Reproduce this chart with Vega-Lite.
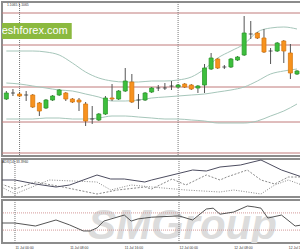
{
  "$schema": "https://vega.github.io/schema/vega-lite/v6.json",
  "padding": 0,
  "background": "#ffffff",
  "spacing": 3,
  "bounds": "flush",
  "config": {"view": {"stroke": "#8c8c8c", "strokeWidth": 2}},
  "datasets": {
    "candles": [
      {"h": -2, "o": 1.1055, "hi": 1.1063, "lo": 1.1054, "c": 1.1061},
      {"h": -1, "o": 1.1061, "hi": 1.1065, "lo": 1.1058, "c": 1.1061},
      {"h": 0, "o": 1.1060, "hi": 1.1062, "lo": 1.1057, "c": 1.1058},
      {"h": 1, "o": 1.1059, "hi": 1.1063, "lo": 1.1053, "c": 1.1059},
      {"h": 2, "o": 1.1059, "hi": 1.1060, "lo": 1.1046, "c": 1.1047},
      {"h": 3, "o": 1.1051, "hi": 1.1052, "lo": 1.1038, "c": 1.1043},
      {"h": 4, "o": 1.1046, "hi": 1.1055, "lo": 1.1045, "c": 1.1054},
      {"h": 5, "o": 1.1054, "hi": 1.1059, "lo": 1.1053, "c": 1.1058},
      {"h": 6, "o": 1.1059, "hi": 1.1065, "lo": 1.1058, "c": 1.1064},
      {"h": 7, "o": 1.1061, "hi": 1.1062, "lo": 1.1053, "c": 1.1055},
      {"h": 8, "o": 1.1055, "hi": 1.1056, "lo": 1.1051, "c": 1.1052},
      {"h": 9, "o": 1.1054, "hi": 1.1056, "lo": 1.1043, "c": 1.1052},
      {"h": 10, "o": 1.1050, "hi": 1.1052, "lo": 1.1028, "c": 1.1033},
      {"h": 11, "o": 1.1035, "hi": 1.1048, "lo": 1.1030, "c": 1.1035},
      {"h": 12, "o": 1.1034, "hi": 1.1041, "lo": 1.1033, "c": 1.1040},
      {"h": 13, "o": 1.1040, "hi": 1.1058, "lo": 1.1039, "c": 1.1056},
      {"h": 14, "o": 1.1056, "hi": 1.1070, "lo": 1.1053, "c": 1.1055},
      {"h": 15, "o": 1.1055, "hi": 1.1064, "lo": 1.1054, "c": 1.1063},
      {"h": 16, "o": 1.1063, "hi": 1.1086, "lo": 1.1062, "c": 1.1073},
      {"h": 17, "o": 1.1072, "hi": 1.1080, "lo": 1.1051, "c": 1.1052},
      {"h": 18, "o": 1.1054, "hi": 1.1060, "lo": 1.1045, "c": 1.1054},
      {"h": 19, "o": 1.1054, "hi": 1.1062, "lo": 1.1053, "c": 1.1061},
      {"h": 20, "o": 1.1062, "hi": 1.1067, "lo": 1.1061, "c": 1.1066},
      {"h": 21, "o": 1.1066, "hi": 1.1069, "lo": 1.1063, "c": 1.1066},
      {"h": 22, "o": 1.1066, "hi": 1.1071, "lo": 1.1064, "c": 1.1066},
      {"h": 23, "o": 1.1068, "hi": 1.1073, "lo": 1.1064, "c": 1.1068},
      {"h": 24, "o": 1.1067, "hi": 1.1070, "lo": 1.1066, "c": 1.1069},
      {"h": 25, "o": 1.1070, "hi": 1.1071, "lo": 1.1066, "c": 1.1067},
      {"h": 26, "o": 1.1069, "hi": 1.1070, "lo": 1.1064, "c": 1.1065},
      {"h": 27, "o": 1.1066, "hi": 1.1069, "lo": 1.1061, "c": 1.1068},
      {"h": 28, "o": 1.1069, "hi": 1.1090, "lo": 1.1061, "c": 1.1086},
      {"h": 29, "o": 1.1085, "hi": 1.1101, "lo": 1.1084, "c": 1.1096},
      {"h": 30, "o": 1.1095, "hi": 1.1096, "lo": 1.1085, "c": 1.1086},
      {"h": 31, "o": 1.1087, "hi": 1.1089, "lo": 1.1085, "c": 1.1087},
      {"h": 32, "o": 1.1087, "hi": 1.1096, "lo": 1.1086, "c": 1.1095},
      {"h": 33, "o": 1.1094, "hi": 1.1098, "lo": 1.1093, "c": 1.1097},
      {"h": 34, "o": 1.1099, "hi": 1.1138, "lo": 1.1098, "c": 1.1121},
      {"h": 35, "o": 1.1120, "hi": 1.1133, "lo": 1.1115, "c": 1.1120},
      {"h": 36, "o": 1.1121, "hi": 1.1122, "lo": 1.1115, "c": 1.1116},
      {"h": 37, "o": 1.1116, "hi": 1.1125, "lo": 1.1101, "c": 1.1102},
      {"h": 38, "o": 1.1103, "hi": 1.1106, "lo": 1.1090, "c": 1.1103},
      {"h": 39, "o": 1.1103, "hi": 1.1112, "lo": 1.1102, "c": 1.1111},
      {"h": 40, "o": 1.1113, "hi": 1.1114, "lo": 1.1091, "c": 1.1103},
      {"h": 41, "o": 1.1101, "hi": 1.1110, "lo": 1.1075, "c": 1.1081},
      {"h": 42, "o": 1.1080, "hi": 1.1084, "lo": 1.1079, "c": 1.1083}
    ],
    "bands": [
      {"h": -2, "up": 1.1103, "mid": 1.1071, "dn": 1.1035},
      {"h": 0, "up": 1.1103, "mid": 1.1070, "dn": 1.1035},
      {"h": 2, "up": 1.1103, "mid": 1.1068, "dn": 1.1035},
      {"h": 4, "up": 1.1102, "mid": 1.1066, "dn": 1.1036},
      {"h": 6, "up": 1.1099, "mid": 1.1064, "dn": 1.1036},
      {"h": 8, "up": 1.1091, "mid": 1.1063, "dn": 1.1035},
      {"h": 10, "up": 1.1082, "mid": 1.1060, "dn": 1.1035},
      {"h": 12, "up": 1.1076, "mid": 1.1057, "dn": 1.1036},
      {"h": 14, "up": 1.1073, "mid": 1.1053, "dn": 1.1038},
      {"h": 16, "up": 1.1072, "mid": 1.1053, "dn": 1.1038},
      {"h": 18, "up": 1.1072, "mid": 1.1054, "dn": 1.1037},
      {"h": 20, "up": 1.1073, "mid": 1.1056, "dn": 1.1036},
      {"h": 22, "up": 1.1073, "mid": 1.1057, "dn": 1.1035},
      {"h": 24, "up": 1.1074, "mid": 1.1058, "dn": 1.1035},
      {"h": 26, "up": 1.1077, "mid": 1.1059, "dn": 1.1034},
      {"h": 28, "up": 1.1085, "mid": 1.1060, "dn": 1.1033},
      {"h": 30, "up": 1.1096, "mid": 1.1062, "dn": 1.1031},
      {"h": 32, "up": 1.1103, "mid": 1.1064, "dn": 1.1031},
      {"h": 34, "up": 1.1110, "mid": 1.1067, "dn": 1.1031},
      {"h": 36, "up": 1.1122, "mid": 1.1073, "dn": 1.1033},
      {"h": 38, "up": 1.1126, "mid": 1.1080, "dn": 1.1038},
      {"h": 40, "up": 1.1127, "mid": 1.1083, "dn": 1.1043},
      {"h": 42, "up": 1.1125, "mid": 1.1085, "dn": 1.1050}
    ],
    "levels": [{"p": 1.1141}, {"p": 1.1109}, {"p": 1.1067}, {"p": 1.1032}, {"p": 1.1001}],
    "days": [{"h": 0}, {"h": 24}],
    "boxes": [{"h1": -4, "h2": 7.9, "p1": 1.1131, "p2": 1.1115, "hx": 7.3, "py": 1.1123, "label": "freshforex.com"}],
    "notes1": [{"h": -1.9, "p": 1.1151, "label": "1.1065 1.1065"}],
    "notes2": [{"h": -1.9, "v": 37.5, "label": "ADX(14) 33.3960"}],
    "notes3": [{"h": 24.5, "v": 9, "label": "SMGroup"}],
    "rsilevels": [{"v": 70}, {"v": 30}],
    "adx": [
      {"h": -2, "v": 17}, {"h": 0, "v": 17}, {"h": 3, "v": 13}, {"h": 6, "v": 10}, {"h": 8, "v": 12},
      {"h": 12, "v": 22}, {"h": 14, "v": 18}, {"h": 16, "v": 18}, {"h": 19, "v": 15}, {"h": 20, "v": 17},
      {"h": 26, "v": 27}, {"h": 28, "v": 26}, {"h": 30, "v": 30}, {"h": 33, "v": 32}, {"h": 36, "v": 37},
      {"h": 39, "v": 27}, {"h": 42, "v": 20}
    ],
    "pdi": [
      {"h": -2, "v": 13}, {"h": 0, "v": 8}, {"h": 3, "v": 15}, {"h": 7, "v": 10}, {"h": 12, "v": 3},
      {"h": 15, "v": 7}, {"h": 19, "v": 10}, {"h": 20, "v": 8}, {"h": 23, "v": 18}, {"h": 25, "v": 12},
      {"h": 28, "v": 22}, {"h": 30, "v": 17}, {"h": 31, "v": 20}, {"h": 34, "v": 27}, {"h": 36, "v": 17},
      {"h": 38, "v": 13}, {"h": 40, "v": 20}, {"h": 42, "v": 20}
    ],
    "mdi": [
      {"h": -2, "v": 10}, {"h": 0, "v": 3}, {"h": 5, "v": 17}, {"h": 12, "v": 15}, {"h": 14, "v": 7},
      {"h": 17, "v": 12}, {"h": 20, "v": 10}, {"h": 25, "v": 7}, {"h": 30, "v": 5}, {"h": 32, "v": 7},
      {"h": 36, "v": 3}, {"h": 38, "v": 12}, {"h": 40, "v": 17}, {"h": 42, "v": 12}
    ],
    "rsi": [
      {"h": -2, "v": 46.5}, {"h": 0, "v": 46.5}, {"h": 3, "v": 39.5}, {"h": 6, "v": 53.5},
      {"h": 8, "v": 42}, {"h": 10, "v": 28}, {"h": 11, "v": 28}, {"h": 12, "v": 35},
      {"h": 13, "v": 51}, {"h": 16, "v": 65}, {"h": 17, "v": 51}, {"h": 18, "v": 56},
      {"h": 20, "v": 60}, {"h": 24, "v": 63}, {"h": 26, "v": 53.5}, {"h": 28, "v": 79},
      {"h": 29, "v": 81}, {"h": 30, "v": 67}, {"h": 32, "v": 72}, {"h": 34, "v": 86},
      {"h": 35, "v": 84}, {"h": 36, "v": 81}, {"h": 37, "v": 58}, {"h": 39, "v": 65},
      {"h": 41, "v": 39.5}, {"h": 42, "v": 42}
    ]
  },
  "vconcat": [
    {
      "width": 300,
      "height": 154,
      "layer": [
        {
          "data": {"name": "levels"},
          "mark": {"type": "rule", "color": "#c07a7a", "strokeWidth": 1},
          "encoding": {"y": {"field": "p", "type": "quantitative", "scale": {"domain": [1.0998, 1.1152], "nice": false, "zero": false}, "axis": null}}
        },
        {
          "data": {"name": "days"},
          "mark": {"type": "rule", "color": "#777777", "strokeDash": [1, 1], "strokeWidth": 1},
          "encoding": {"x": {"field": "h", "type": "quantitative", "scale": {"domain": [-1.9, 42], "nice": false, "zero": false}, "axis": null}}
        },
        {
          "data": {"name": "bands"},
          "mark": {"type": "line", "color": "#a6c6ba", "strokeWidth": 1, "interpolate": "monotone", "clip": true},
          "encoding": {"x": {"field": "h", "type": "quantitative"}, "y": {"field": "up", "type": "quantitative"}}
        },
        {
          "data": {"name": "bands"},
          "mark": {"type": "line", "color": "#a6c6ba", "strokeWidth": 1, "interpolate": "monotone", "clip": true},
          "encoding": {"x": {"field": "h", "type": "quantitative"}, "y": {"field": "mid", "type": "quantitative"}}
        },
        {
          "data": {"name": "bands"},
          "mark": {"type": "line", "color": "#a6c6ba", "strokeWidth": 1, "interpolate": "monotone", "clip": true},
          "encoding": {"x": {"field": "h", "type": "quantitative"}, "y": {"field": "dn", "type": "quantitative"}}
        },
        {
          "data": {"name": "candles"},
          "mark": {"type": "rule", "strokeWidth": 1, "color": "#555555", "clip": true},
          "encoding": {
            "x": {"field": "h", "type": "quantitative"},
            "y": {"field": "lo", "type": "quantitative"},
            "y2": {"field": "hi"}
          }
        },
        {
          "data": {"name": "candles"},
          "transform": [{"filter": "datum.c > datum.o"}],
          "mark": {"type": "bar", "size": 4, "fill": "#3cbf3c", "stroke": "#2f9a2f", "strokeWidth": 0.8, "clip": true},
          "encoding": {
            "x": {"field": "h", "type": "quantitative"},
            "y": {"field": "o", "type": "quantitative"},
            "y2": {"field": "c"}
          }
        },
        {
          "data": {"name": "candles"},
          "transform": [{"filter": "datum.c < datum.o"}],
          "mark": {"type": "bar", "size": 4, "fill": "#f7921e", "stroke": "#d97a10", "strokeWidth": 0.8, "clip": true},
          "encoding": {
            "x": {"field": "h", "type": "quantitative"},
            "y": {"field": "o", "type": "quantitative"},
            "y2": {"field": "c"}
          }
        },
        {
          "data": {"name": "candles"},
          "transform": [{"filter": "datum.c == datum.o"}],
          "mark": {"type": "tick", "size": 4, "thickness": 1, "color": "#222222", "orient": "horizontal", "clip": true},
          "encoding": {
            "x": {"field": "h", "type": "quantitative"},
            "y": {"field": "c", "type": "quantitative"}
          }
        },
        {
          "data": {"name": "boxes"},
          "mark": {"type": "rect", "color": "#8bb93f", "clip": true},
          "encoding": {
            "x": {"field": "h1", "type": "quantitative"},
            "x2": {"field": "h2"},
            "y": {"field": "p1", "type": "quantitative"},
            "y2": {"field": "p2"}
          }
        },
        {
          "data": {"name": "boxes"},
          "mark": {"type": "text", "align": "right", "baseline": "middle", "fontSize": 11, "font": "Liberation Sans", "color": "#ffffff", "clip": true},
          "encoding": {
            "x": {"field": "hx", "type": "quantitative"},
            "y": {"field": "py", "type": "quantitative"},
            "text": {"field": "label"}
          }
        },
        {
          "data": {"name": "notes1"},
          "mark": {"type": "text", "align": "left", "baseline": "top", "fontSize": 3.4, "font": "Liberation Sans", "color": "#333333"},
          "encoding": {
            "x": {"field": "h", "type": "quantitative"},
            "y": {"field": "p", "type": "quantitative"},
            "text": {"field": "label"}
          }
        }
      ]
    },
    {
      "width": 300,
      "height": 38,
      "layer": [
        {
          "data": {"name": "days"},
          "mark": {"type": "rule", "color": "#777777", "strokeDash": [1, 1], "strokeWidth": 1},
          "encoding": {"x": {"field": "h", "type": "quantitative", "scale": {"domain": [-1.9, 42], "nice": false, "zero": false}, "axis": null}}
        },
        {
          "data": {"name": "pdi"},
          "mark": {"type": "line", "strokeWidth": 1, "color": "#8a8a8a", "strokeDash": [2, 1.5], "clip": true},
          "encoding": {
            "x": {"field": "h", "type": "quantitative"},
            "y": {"field": "v", "type": "quantitative", "scale": {"domain": [0, 38], "nice": false, "zero": false}, "axis": null}
          }
        },
        {
          "data": {"name": "mdi"},
          "mark": {"type": "line", "strokeWidth": 1, "color": "#8a8a8a", "strokeDash": [1, 1.5], "clip": true},
          "encoding": {"x": {"field": "h", "type": "quantitative"}, "y": {"field": "v", "type": "quantitative"}}
        },
        {
          "data": {"name": "adx"},
          "mark": {"type": "line", "strokeWidth": 1, "color": "#4d4d60", "clip": true},
          "encoding": {"x": {"field": "h", "type": "quantitative"}, "y": {"field": "v", "type": "quantitative"}}
        },
        {
          "data": {"name": "notes2"},
          "mark": {"type": "text", "align": "left", "baseline": "top", "fontSize": 3.4, "font": "Liberation Sans", "color": "#333333"},
          "encoding": {
            "x": {"field": "h", "type": "quantitative"},
            "y": {"field": "v", "type": "quantitative"},
            "text": {"field": "label"}
          }
        }
      ]
    },
    {
      "width": 300,
      "height": 43,
      "layer": [
        {
          "data": {"name": "notes3"},
          "mark": {"type": "text", "align": "center", "baseline": "alphabetic", "fontSize": 42, "fontWeight": "bold", "fontStyle": "italic", "font": "Liberation Sans", "color": "#dcdcdc", "clip": true},
          "encoding": {
            "x": {"field": "h", "type": "quantitative", "scale": {"domain": [-1.9, 42], "nice": false, "zero": false}, "axis": {"values": [0, 4, 8, 12, 16, 20, 24, 28, 32, 36, 40], "labelExpr": "(datum.value < 24 ? '11 Jul ' : '12 Jul ') + (datum.value % 24 < 10 ? '0' : '') + (datum.value % 24) + ':00'", "labelFontSize": 3.4, "labelFont": "Liberation Sans", "labelColor": "#333333", "labelAlign": "left", "labelPadding": 2, "labelFlush": false, "labelOverlap": false, "labelBound": false, "ticks": false, "domain": false, "grid": false, "title": null}},
            "y": {"field": "v", "type": "quantitative", "scale": {"domain": [0, 100], "nice": false, "zero": false}, "axis": null},
            "text": {"field": "label"}
          }
        },
        {
          "data": {"name": "rsilevels"},
          "mark": {"type": "rule", "color": "#d49a9a", "strokeDash": [1, 1], "strokeWidth": 1},
          "encoding": {"y": {"field": "v", "type": "quantitative"}}
        },
        {
          "data": {"name": "days"},
          "mark": {"type": "rule", "color": "#777777", "strokeDash": [1, 1], "strokeWidth": 1},
          "encoding": {"x": {"field": "h", "type": "quantitative"}}
        },
        {
          "data": {"name": "rsi"},
          "mark": {"type": "line", "color": "#555555", "strokeWidth": 1, "clip": true},
          "encoding": {"x": {"field": "h", "type": "quantitative"}, "y": {"field": "v", "type": "quantitative"}}
        }
      ]
    }
  ]
}
